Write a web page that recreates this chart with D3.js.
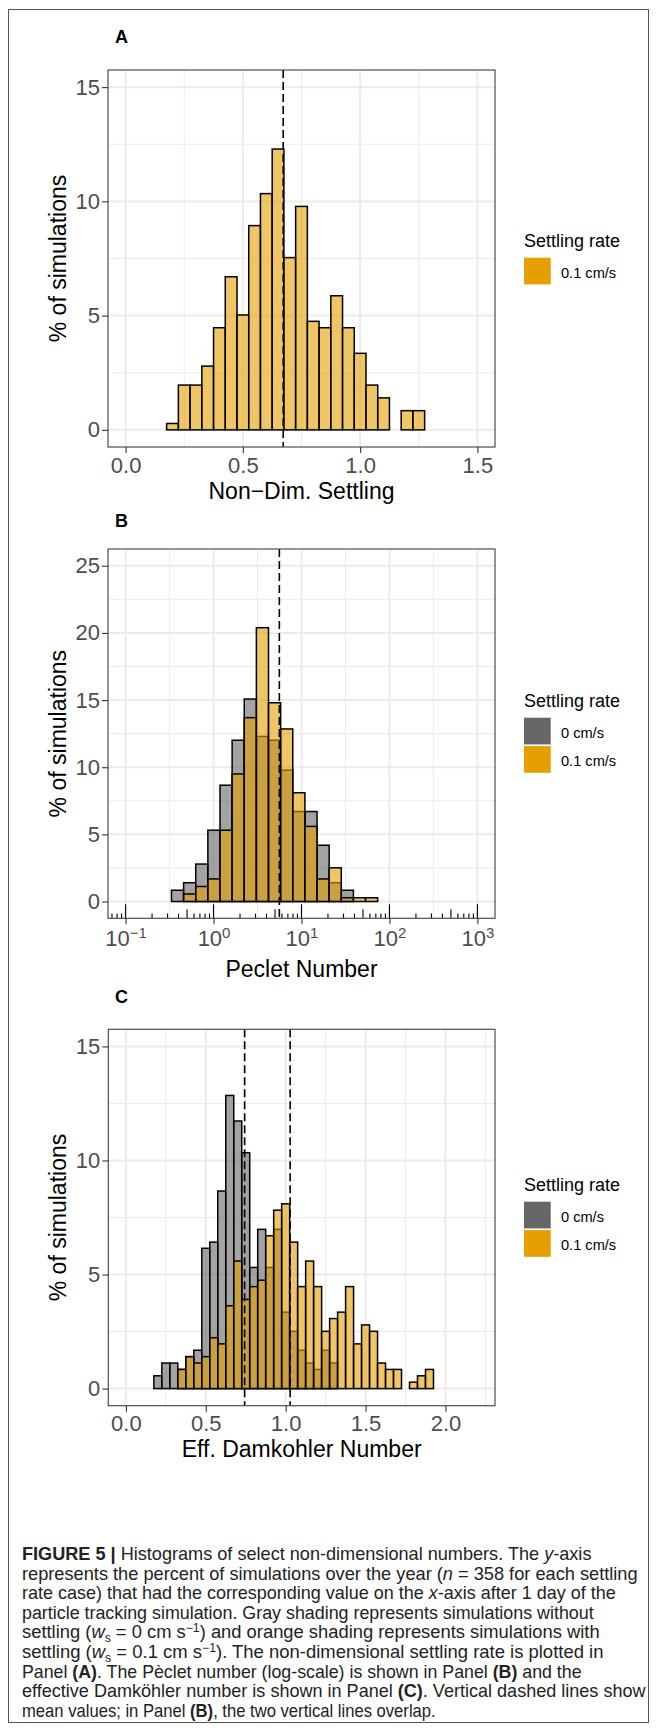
<!DOCTYPE html>
<html>
<head>
<meta charset="utf-8">
<script src="https://cdn.jsdelivr.net/npm/d3@7"></script>
<style>
  body { margin: 0; background: #fff; }
  svg { display: block; font-family: "Liberation Sans", Arial, Helvetica, sans-serif; }
</style>
</head>
<body>
<script>
// ---- data (percent of simulations per bin) ----

// Panel A: non-dimensional settling, bins of 0.05 centred on 0.05 ... 1.45
var settlingBinStart = 0.025, settlingBinWidth = 0.05;
var settlingFast = [0, 0, 0, 0.28, 1.96, 1.96, 2.79, 4.47, 6.70, 5.03, 8.94, 10.34, 12.29, 7.54, 9.78,
                    4.75, 4.47, 5.87, 4.47, 3.35, 1.96, 1.40, 0, 0.84, 0.84, 0, 0, 0, 0];
var settlingMean = [0.672];

// Panel B: Peclet number, bins in log10 space
var pecletBinStart = -0.892, pecletBinWidth = 0.1379;
var pecletSlow = [0, 0, 0, 0.84, 1.40, 2.79, 5.31, 8.66, 12.01, 15.08, 12.29, 12.01, 9.78, 6.70, 6.70,
                  4.19, 1.40, 0.84, 0, 0, 0, 0, 0, 0, 0, 0, 0, 0];
var pecletFast = [0, 0, 0, 0, 0.56, 1.12, 1.68, 5.31, 9.50, 13.69, 20.39, 14.80, 12.85, 8.10, 5.59,
                  1.68, 2.51, 0.28, 0.28, 0.28, 0, 0, 0, 0, 0, 0, 0, 0];
var pecletMean = [5.6];

// Panel C: effective Damkohler number, bins of 0.05 centred on 0.05 ... 2.15
var damBinStart = 0.025, damBinWidth = 0.05;
var damSlow = [0, 0, 0, 0.56, 1.12, 1.12, 0.84, 1.40, 1.68, 6.15, 6.42, 8.66, 12.85, 11.73, 10.34,
               5.31, 6.98, 5.31, 6.98, 3.35, 2.51, 1.68, 1.12, 0.84, 1.68, 1.12, 0, 0, 0, 0,
               0, 0, 0, 0, 0, 0, 0, 0, 0, 0, 0, 0, 0];
var damFast = [0, 0, 0, 0, 0, 0, 0.84, 1.40, 1.12, 1.40, 2.23, 1.96, 3.63, 5.59, 3.91,
               4.47, 4.75, 6.70, 7.82, 8.10, 6.42, 4.47, 5.59, 4.47, 2.51, 3.07, 3.35, 4.47, 1.96, 2.79,
               2.51, 1.12, 0.84, 0.84, 0, 0.28, 0.56, 0.84, 0, 0, 0, 0, 0];
var damMean = [0.743, 1.028];

var seriesNames = ["0 cm/s", "0.1 cm/s"];
var seriesColors = ["#666666", "#E69F00"];
var legendTitle = "Settling rate";
var yTitle = "% of simulations";

var captionLines = [
  [["b", "FIGURE 5 | "], ["", "Histograms of select non-dimensional numbers. The "], ["i", "y"], ["", "-axis"]],
  [["", "represents the percent of simulations over the year ("], ["i", "n"], ["", " = 358 for each settling"]],
  [["", "rate case) that had the corresponding value on the "], ["i", "x"], ["", "-axis after 1 day of the"]],
  [["", "particle tracking simulation. Gray shading represents simulations without"]],
  [["", "settling ("], ["i", "w"], ["sub", "s"], ["", " = 0 cm s"], ["sup", "\u22121"], ["", ") and orange shading represents simulations with"]],
  [["", "settling ("], ["i", "w"], ["sub", "s"], ["", " = 0.1 cm s"], ["sup", "\u22121"], ["", "). The non-dimensional settling rate is plotted in"]],
  [["", "Panel "], ["b", "(A)"], ["", ". The P\u00e8clet number (log-scale) is shown in Panel "], ["b", "(B)"], ["", " and the"]],
  [["", "effective Damk\u00f6hler number is shown in Panel "], ["b", "(C)"], ["", ". Vertical dashed lines show"]],
  [["", "mean values; in Panel "], ["b", "(B)"], ["", ", the two vertical lines overlap."]]
];
var captionWidths = [570, 616, 594, 572, 578, 582, 560, 624, 414];

// ---- page ----
var width = 657, height = 1731;
var svg = d3.select("body").append("svg")
    .attr("width", width)
    .attr("height", height);

svg.append("rect")
    .attr("x", 8.5).attr("y", 9.5)
    .attr("width", 640).attr("height", 1713)
    .attr("fill", "none").attr("stroke", "#555").attr("stroke-width", 1);

var fillAlpha = 0.6;

function drawPanel(opt){
    var g = svg.append("g");
    var x = opt.x, y = opt.y;
    var L = opt.box[0], T = opt.box[1], R = opt.box[2], B = opt.box[3];

    // grid
    g.selectAll(".minorx").data(opt.xMinor).enter().append("line")
        .attr("x1", function(d){ return x(d); }).attr("x2", function(d){ return x(d); })
        .attr("y1", T).attr("y2", B)
        .attr("stroke", "#EBEBEB").attr("stroke-width", 1);
    g.selectAll(".minory").data(opt.yMinor).enter().append("line")
        .attr("y1", function(d){ return y(d); }).attr("y2", function(d){ return y(d); })
        .attr("x1", L).attr("x2", R)
        .attr("stroke", "#EBEBEB").attr("stroke-width", 1);
    g.selectAll(".majorx").data(opt.xTicks).enter().append("line")
        .attr("x1", function(d){ return x(d); }).attr("x2", function(d){ return x(d); })
        .attr("y1", T).attr("y2", B)
        .attr("stroke", "#EBEBEB").attr("stroke-width", 2);
    g.selectAll(".majory").data(opt.yTicks).enter().append("line")
        .attr("y1", function(d){ return y(d); }).attr("y2", function(d){ return y(d); })
        .attr("x1", L).attr("x2", R)
        .attr("stroke", "#EBEBEB").attr("stroke-width", 2);

    // bars, slow series first then fast on top
    opt.series.forEach(function(s){
        g.append("g").selectAll("rect").data(s.values).enter().append("rect")
            .attr("x", function(d, i){ return x(opt.edge(i)); })
            .attr("width", function(d, i){ return x(opt.edge(i + 1)) - x(opt.edge(i)); })
            .attr("y", function(d){ return y(d); })
            .attr("height", function(d){ return y(0) - y(d); })
            .attr("fill", s.color).attr("fill-opacity", fillAlpha)
            .attr("stroke", "#000").attr("stroke-width", 1.5);
    });

    // mean lines
    g.selectAll(".mean").data(opt.means).enter().append("line")
        .attr("x1", function(d){ return x(d); }).attr("x2", function(d){ return x(d); })
        .attr("y1", T).attr("y2", B)
        .attr("stroke", "#000").attr("stroke-width", 1.6)
        .attr("stroke-dasharray", "8,4");

    if (opt.logTicks) opt.logTicks(g);

    // border
    g.append("rect").attr("x", L).attr("y", T).attr("width", R - L).attr("height", B - T)
        .attr("fill", "none").attr("stroke", "#4d4d4d").attr("stroke-width", 1.2);

    // axes
    var ya = g.append("g").attr("transform", "translate(" + L + ",0)")
        .call(d3.axisLeft(y).tickValues(opt.yTicks).tickSize(6).tickSizeOuter(0).tickPadding(2));
    var xa = g.append("g").attr("transform", "translate(0," + B + ")")
        .call(d3.axisBottom(x).tickValues(opt.xTicks).tickSize(6).tickSizeOuter(0).tickPadding(opt.xPad || 4)
              .tickFormat(opt.xFormat));
    [ya, xa].forEach(function(a){
        a.select(".domain").remove();
        a.selectAll("line").attr("stroke", "#333").attr("stroke-width", 1.1);
        a.selectAll("text").attr("fill", "#4D4D4D").attr("font-size", 22)
            .attr("font-family", "Liberation Sans, Arial, sans-serif");
    });
    if (opt.xPost) opt.xPost(xa);

    // titles
    g.append("text").attr("x", (L + R) / 2).attr("y", opt.xTitleY)
        .attr("text-anchor", "middle").attr("font-size", 23).text(opt.xTitle);
    g.append("text").attr("transform", "translate(66," + ((T + B) / 2) + ") rotate(-90)")
        .attr("text-anchor", "middle").attr("font-size", 23).text(yTitle);
    g.append("text").attr("x", 115).attr("y", opt.tagY)
        .attr("font-size", 18).attr("font-weight", "bold").text(opt.tag);

    // legend
    var lg = g.append("g").attr("transform", "translate(524," + opt.legendY + ")");
    lg.append("text").attr("x", 0).attr("y", 0).attr("font-size", 18).text(legendTitle);
    opt.legendKeys.forEach(function(k, i){
        lg.append("rect").attr("x", 0).attr("y", 11 + i * 28.4)
            .attr("width", 26.7).attr("height", 26.7).attr("fill", seriesColors[k]);
        lg.append("text").attr("x", 37).attr("y", 31 + i * 28.4)
            .attr("font-size", 14.6).text(seriesNames[k]);
    });
}

// Panel A
var xA = d3.scaleLinear().domain([-0.075, 1.575]).range([108, 495]);
var yA = d3.scaleLinear().domain([-0.75, 15.75]).range([447, 70]);
drawPanel({
    tag: "A", tagY: 43, box: [108, 70, 495, 447], x: xA, y: yA,
    xTicks: [0, 0.5, 1.0, 1.5], xMinor: [0.25, 0.75, 1.25],
    yTicks: [0, 5, 10, 15], yMinor: [2.5, 7.5, 12.5],
    xFormat: d3.format(".1f"),
    edge: function(i){ return settlingBinStart + i * settlingBinWidth; },
    series: [{ values: settlingFast, color: seriesColors[1] }],
    means: settlingMean,
    xTitle: "Non\u2212Dim. Settling", xTitleY: 499,
    legendY: 246.7, legendKeys: [1]
});

// Panel B (log x)
var xB = d3.scaleLog().domain([Math.pow(10, -1.2), Math.pow(10, 3.2)]).range([108, 495]);
var yB = d3.scaleLinear().domain([-1.25, 26.25]).range([918.3, 549]);
drawPanel({
    tag: "B", tagY: 527, box: [108, 549, 495, 918.3], x: xB, y: yB,
    xTicks: [0.1, 1, 10, 100, 1000],
    xMinor: [-0.5, 0.5, 1.5, 2.5].map(function(p){ return Math.pow(10, p); }),
    yTicks: [0, 5, 10, 15, 20, 25], yMinor: [2.5, 7.5, 12.5, 17.5, 22.5],
    xFormat: function(d){ return d; }, xPad: 6,
    xPost: function(xa){
        xa.selectAll(".tick text").each(function(d){
            var t = d3.select(this), p = Math.round(Math.log10(d));
            t.text("");
            t.append("tspan").text("10");
            t.append("tspan").attr("dy", "-0.55em").attr("font-size", 15)
                .text(p < 0 ? "\u2212" + (-p) : p);
        });
    },
    edge: function(i){ return Math.pow(10, pecletBinStart + i * pecletBinWidth); },
    series: [{ values: pecletSlow, color: seriesColors[0] },
             { values: pecletFast, color: seriesColors[1] }],
    means: pecletMean,
    logTicks: function(g){
        var ticks = [];
        for (var e = -2; e <= 3; e++){
            for (var m = 1; m <= 9; m++){
                var v = m * Math.pow(10, e);
                if (v >= Math.pow(10, -1.2) && v <= Math.pow(10, 3.2)) ticks.push({ v: v, m: m });
            }
        }
        g.selectAll(".lt").data(ticks).enter().append("line")
            .attr("x1", function(d){ return xB(d.v); }).attr("x2", function(d){ return xB(d.v); })
            .attr("y1", 918.3)
            .attr("y2", function(d){ return 918.3 - (d.m === 1 ? 14 : d.m === 5 ? 9 : 4.7); })
            .attr("stroke", "#000").attr("stroke-width", 1.1);
    },
    xTitle: "Peclet Number", xTitleY: 977,
    legendY: 706.7, legendKeys: [0, 1]
});

// Panel C
var xC = d3.scaleLinear().domain([-0.11, 2.31]).range([108.3, 495]);
var yC = d3.scaleLinear().domain([-0.75, 15.75]).range([1405.7, 1029.3]);
drawPanel({
    tag: "C", tagY: 1003, box: [108.3, 1029.3, 495, 1405.7], x: xC, y: yC,
    xTicks: [0, 0.5, 1.0, 1.5, 2.0], xMinor: [0.25, 0.75, 1.25, 1.75, 2.25],
    yTicks: [0, 5, 10, 15], yMinor: [2.5, 7.5, 12.5],
    xFormat: d3.format(".1f"),
    edge: function(i){ return damBinStart + i * damBinWidth; },
    series: [{ values: damSlow, color: seriesColors[0] },
             { values: damFast, color: seriesColors[1] }],
    means: damMean,
    xTitle: "Eff. Damkohler Number", xTitleY: 1457,
    legendY: 1190.7, legendKeys: [0, 1]
});

// caption: each line at natural width, then squeezed horizontally to the reference width
var cap = svg.append("g").attr("font-family", "'Liberation Sans Narrow', 'Liberation Sans', Arial, sans-serif")
    .attr("font-size", 18).attr("fill", "#222");
captionLines.forEach(function(line, li){
    var t = cap.append("text").attr("x", 0).attr("y", 0);
    line.forEach(function(part, i){
        var s = t.append("tspan").text(part[1]);
        var prev = i > 0 ? line[i - 1][0] : "";
        var dy = 0;
        if (prev === "sub") dy += -4;
        if (prev === "sup") dy += 6;
        if (part[0] === "b") s.attr("font-weight", "bold");
        if (part[0] === "i") s.attr("font-style", "italic");
        if (part[0] === "sub") { s.attr("font-size", 12); dy += 4; }
        if (part[0] === "sup") { s.attr("font-size", 12); dy += -6; }
        if (dy) s.attr("dy", dy);
    });
    var natural = t.node().getComputedTextLength();
    var sx = captionWidths[li] / natural;
    t.attr("transform", "translate(22," + (1560 + li * 19.6) + ") scale(" + sx + ",1)");
});
</script>
</body>
</html>
